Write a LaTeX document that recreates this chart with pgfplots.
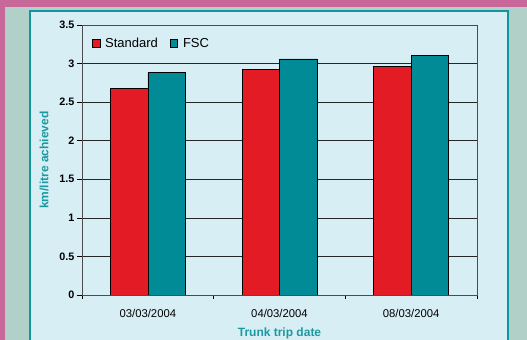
\documentclass[border=0pt]{standalone}
\usepackage{pgfplots}
\pgfplotsset{compat=1.18}
\usepackage{fontspec}
\setmainfont{Liberation Sans}
\definecolor{pinkc}{HTML}{C8689A}
\definecolor{sage}{HTML}{B0D0C8}
\definecolor{panel}{HTML}{D8EEF5}
\definecolor{tealb}{HTML}{11969C}
\definecolor{barred}{HTML}{E31B25}
\definecolor{barteal}{HTML}{008B96}
\definecolor{labteal}{HTML}{1A9AA0}
\begin{document}
\begin{tikzpicture}
\useasboundingbox (0,0) rectangle (527bp,340bp);
\fill[pinkc] (0,0) rectangle (527bp,340bp);
\fill[sage] (5bp,0) rectangle (527bp,333bp);
\filldraw[fill=panel, draw=tealb, line width=2bp] (30bp,-5bp) rectangle (508bp,329bp);
\begin{axis}[
  at={(82bp,45bp)}, anchor=south west,
  scale only axis, width=395bp, height=270bp,
  ybar=0pt, bar width=37.5bp,
  xmin=-0.5, xmax=2.5, ymin=0, ymax=3.5,
  xtick={0,1,2},
  xticklabels={03/03/2004,04/03/2004,08/03/2004},
  minor xtick={-0.5,0.5,1.5,2.5},
  major x tick style={draw=none},
  ytick={0,0.5,1,1.5,2,2.5,3,3.5},
  /pgf/number format/assume math mode=true,
  tick pos=left, tick align=outside,
  major tick length=5bp, minor tick length=4bp,
  tick style={black, line width=0.6bp},
  ymajorgrids, grid style={black!85, line width=0.6bp},
  axis line style={gray!60!black, line width=0.8bp},
  xticklabel style={font=\fontsize{11.3bp}{13bp}\selectfont, yshift=-6bp},
  yticklabel style={font=\fontsize{10.8bp}{13bp}\selectfont\bfseries, xshift=1bp},
  xlabel={Trunk trip date},
  ylabel={km/litre achieved},
  xlabel style={font=\fontsize{12bp}{14bp}\selectfont\bfseries, text=labteal, at={(axis description cs:0.5,-0.143)}, anchor=center},
  ylabel style={font=\fontsize{12bp}{14bp}\selectfont\bfseries, text=labteal, at={(axis description cs:-0.096,0.5)}, anchor=center},
  legend columns=2,
  legend style={at={(axis description cs:0.025,0.96)}, anchor=north west, draw=none, fill=none,
    font=\fontsize{13bp}{15bp}\selectfont, inner sep=0pt,
    /tikz/every odd column/.append style={column sep=3bp},
    /tikz/every even column/.append style={column sep=10bp}},
  legend image code/.code={\draw[#1, draw=black, line width=0.6bp] (0bp,-3.8bp) rectangle (7.5bp,3.8bp);},
]
\addplot[fill=barred, draw=black, line width=0.6bp] coordinates {(0,2.68) (1,2.92) (2,2.96)};
\addplot[fill=barteal, draw=black, line width=0.6bp] coordinates {(0,2.89) (1,3.06) (2,3.11)};
\legend{Standard, FSC}
\end{axis}
\end{tikzpicture}
\end{document}
